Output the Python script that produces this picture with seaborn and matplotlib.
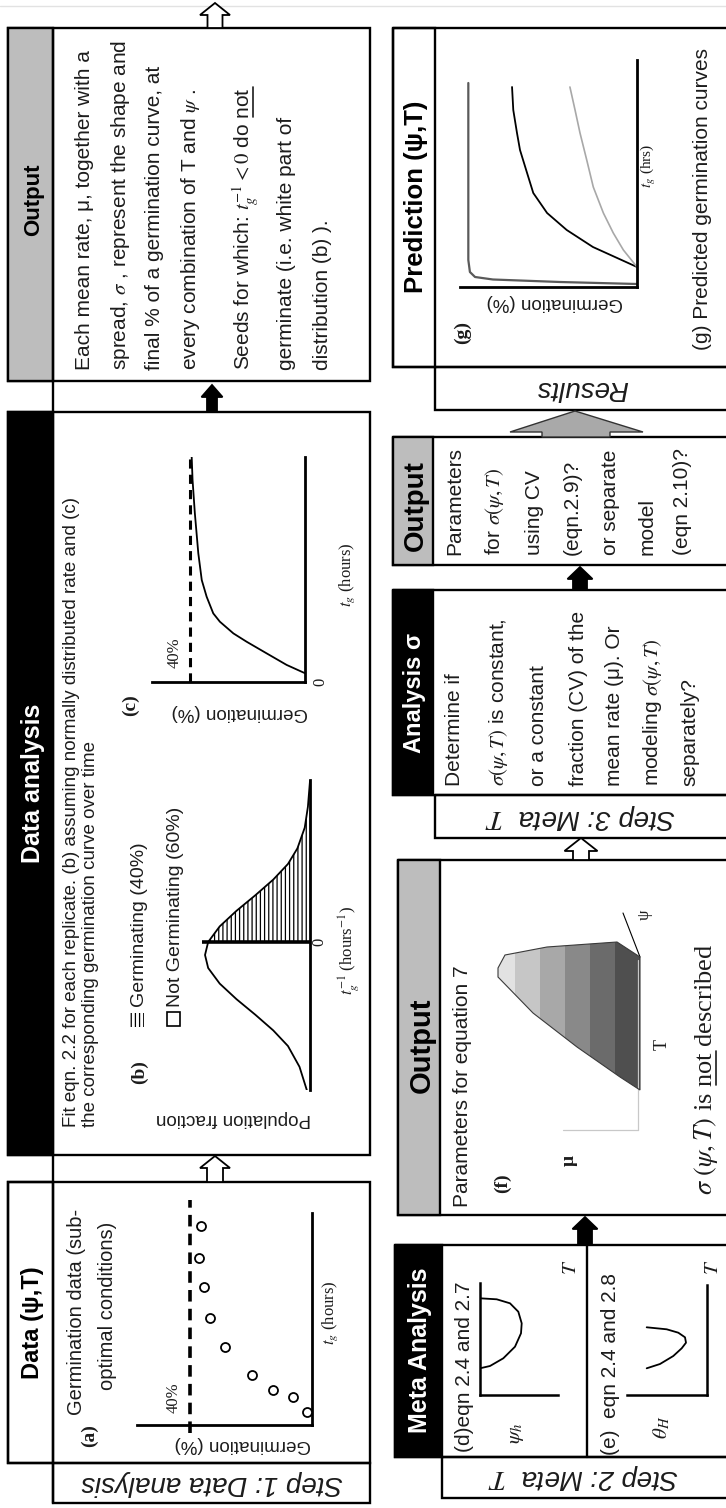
import matplotlib
matplotlib.use("Agg")
import matplotlib.pyplot as plt
from matplotlib.patches import Rectangle, Polygon
import seaborn as sns

# ---------------- values ----------------
# (a) observed germination data
a_time = [1.3, 2.8, 3.5, 5.0, 7.8, 10.7, 13.8, 16.7, 19.9]
a_germ = [1.6, 6.2, 12.8, 19.7, 28.5, 33.4, 35.4, 37.0, 36.4]
final_germ = 40
# (b) distribution of germination rate
b_rate = [3.1, 2.6, 2.2, 1.8, 1.5, 1.2, 0.9, 0.6, 0.3, 0.0, -0.25, -0.5, -0.8,
          -1.1, -1.4, -1.7, -2.0, -2.4, -2.85]
b_dens = [0.0, 0.02, 0.05, 0.12, 0.21, 0.35, 0.52, 0.70, 0.86, 0.97, 1.0, 0.97,
          0.86, 0.70, 0.52, 0.35, 0.21, 0.10, 0.03]
# (c) fitted germination curve
c_time = [0.39, 0.76, 1.27, 1.79, 2.16, 2.68, 3.05, 3.79, 4.53, 5.72, 7.5, 8.98, 10.0]
c_germ = [0.0, 6.4, 13.3, 20.3, 24.9, 29.6, 31.9, 34.2, 35.9, 37.1, 38.3, 39.1, 39.4]
# (d) psi_h vs T
d_T = [2.67, 2.9, 3.67, 4.83, 6.17, 7.17, 8.33, 9.17, 9.57, 9.67]
d_psi = [0.0, 1.0, 2.33, 3.5, 4.1, 4.17, 3.83, 3.0, 1.67, 0.0]
# (e) theta_H vs T
e_T = [2.67, 3.1, 3.9, 4.67, 5.23, 5.77, 6.23, 6.57, 6.77]
e_theta = [6.03, 4.7, 3.37, 2.53, 2.1, 2.2, 2.87, 4.03, 6.03]
# (f) projected mean-rate surface (outline) and shading bands
f_outline_x = [498, 505, 547, 617, 640, 640, 620, 577, 533, 498]
f_outline_y = [968, 955, 947, 942, 957, 1090, 1077, 1047, 1013, 977]
f_band_edges = [490, 515, 540, 565, 590, 615, 645]
f_band_colors = ["#e2e2e2", "#c6c6c6", "#a8a8a8", "#898989", "#6b6b6b", "#4f4f4f"]
# (g) predicted germination curves
g_time_1 = [0.3, 0.5, 0.75, 1.0, 1.5, 2.7, 20.4]
g_germ_1 = [0.0, 43.5, 81.4, 91.5, 94.4, 95.3, 95.3]
g_time_2 = [2.0, 4.0, 5.7, 7.4, 9.4, 11.4, 13.7, 15.4, 17.7, 20.0]
g_germ_2 = [0.0, 24.9, 39.7, 50.8, 58.6, 62.1, 66.1, 67.8, 69.9, 70.6]
g_time_3 = [2.0, 3.7, 5.4, 7.4, 10.0, 12.7, 15.4, 17.7, 20.0]
g_germ_3 = [0.0, 7.7, 13.4, 19.0, 24.7, 28.4, 32.2, 35.0, 37.9]

# text blocks
out1_lines = ["Each mean rate, \u03bc, together with a",
              "spread, $\\sigma$ , represent the shape and",
              "final % of a germination curve, at",
              "every combination of T and $\\psi$ .",
              "Seeds for which: $t_g^{-1} < 0$ do not",
              "germinate (i.e. white part of",
              "distribution (b) )."]
da_lines = ["Fit eqn. 2.2 for each replicate. (b) assuming normally distributed rate and (c)",
            "the corresponding germination curve over time"]
outs_lines = ["Parameters", "for $\\sigma(\\psi,T)$", "using CV", "(eqn.2.9)?",
              "or separate", "model", "(eqn 2.10)?"]
anas_lines = ["Determine if", "$\\sigma(\\psi,T)$ is constant,", "or a constant",
              "fraction (CV) of the", "mean rate (\u03bc). Or", "modeling $\\sigma(\\psi,T)$",
              "separately?"]

# ---------------- setup ----------------
sns.set_theme(style="white")
plt.rcParams["font.family"] = ["Liberation Sans", "DejaVu Sans"]
plt.rcParams["mathtext.fontset"] = "stix"
plt.rcParams["hatch.linewidth"] = 0.9

W, H = 726, 1508
fig = plt.figure(figsize=(W / 100, H / 100), dpi=100)
fig.patch.set_facecolor("white")
ax = fig.add_axes([0, 0, 1, 1])
ax.set_xlim(0, W)
ax.set_ylim(H, 0)
ax.axis("off")
R = fig.canvas.get_renderer()
INK = "#1c1c1c"
GREY_HDR = "#bdbdbd"
SERIF = ["Liberation Serif", "DejaVu Serif"]


def rect(x0, y0, x1, y1, fc="none", lw=1.7, z=3, **kw):
    ax.add_patch(Rectangle((x0, y0), x1 - x0, y1 - y0, facecolor=fc,
                           edgecolor="black", lw=lw, zorder=z, **kw))


def arrow(cx, tip, bottom, hw, hl, sw, fc):
    pts = [(cx, tip), (cx + hw / 2, tip + hl), (cx + sw / 2, tip + hl), (cx + sw / 2, bottom),
           (cx - sw / 2, bottom), (cx - sw / 2, tip + hl), (cx - hw / 2, tip + hl)]
    ax.add_patch(Polygon(pts, closed=True, facecolor=fc, edgecolor="black", lw=1.3, zorder=5))


def up(x, y, s, size, ha="left", color=INK, **kw):
    px = size * 100 / 72
    return ax.text(x + 0.36 * px, y, s, rotation=90, rotation_mode="anchor", ha=ha,
                   va="baseline", fontsize=size, color=color, zorder=6, **kw)


def flip(x, y, s, size, color=INK, **kw):
    return ax.text(x, y, s, rotation=180, rotation_mode="anchor", ha="center",
                   va="center", fontsize=size, color=color, zorder=6, **kw)


def width(s, size, **kw):
    t = ax.text(0, 0, s, fontsize=size, **kw)
    w = t.get_window_extent(R).width
    t.remove()
    return w


def underline(x, y, upto, word, size, **kw):
    px = size * 100 / 72
    w_end = width(upto, size, **kw)
    w_word = width(word, size, **kw)
    xb = x + 0.36 * px + 0.14 * px
    ax.plot([xb, xb], [y - (w_end - w_word), y - w_end], color=INK, lw=1.2, zorder=6)


def inset(x0, x1, y0, y1):
    a = fig.add_axes([x0 / W, 1 - y1 / H, (x1 - x0) / W, (y1 - y0) / H])
    a.patch.set_alpha(0)
    return a


def frame(a, sides, lw=2.0):
    for s in ["left", "right", "top", "bottom"]:
        a.spines[s].set_visible(s in sides)
        a.spines[s].set_linewidth(lw)
        a.spines[s].set_color("black")
    a.set_xticks([])
    a.set_yticks([])
    a.set_xlabel("")
    a.set_ylabel("")


# faint top rule
ax.plot([0, W], [6, 6], color="#e2e2e2", lw=1)

# ---------------- left column: Step 1 ----------------
rect(8, 28, 370, 381)
rect(8, 28, 53, 381, fc=GREY_HDR)
rect(8, 412, 370, 1155)
rect(8, 412, 53, 1155, fc="black")
rect(8, 1182, 370, 1463)
rect(8, 1182, 53, 1463)
rect(53, 1463, 370, 1503)
ax.plot([53, 53], [28, 1503], color="black", lw=1.7, zorder=3)

arrow(215, 3, 28, 30, 12, 15, "white")
arrow(212, 385, 412, 21, 12, 10, "black")
arrow(215, 1156, 1182, 30, 12, 16, "white")

up(31, 200, "Output", 16, ha="center", weight="bold", color="black")
up(31, 783, "Data analysis", 18, ha="center", weight="bold", color="white")
up(31, 1323, "Data (\u03c8,T)", 17, ha="center", weight="bold", color="black")
flip(212, 1483, "Step 1: Data analysis", 20, style="italic")

for xc, s in zip([83, 118, 153, 188, 243, 285, 320], out1_lines):
    up(xc, 370, s, 15)
underline(243, 370, out1_lines[4], "not", 15)

up(69, 1127, da_lines[0], 13.5)
up(88, 1127, da_lines[1], 13.5)

# (a)
ax_a = inset(137, 312, 1213, 1425)
sns.scatterplot(x=a_germ, y=a_time, ax=ax_a, s=42, color="white", edgecolor="black",
                linewidth=1.3, zorder=3)
ax_a.axvline(final_germ, ymin=-0.04, ymax=1.06, clip_on=False, color="black", lw=2.6,
             linestyle=(0, (3.2, 2.0)))
ax_a.set_xlim(57.4, 0)
ax_a.set_ylim(0, 21.2)
frame(ax_a, ["right", "bottom"])
up(87, 1436, "(a)", 14, ha="center", weight="bold", family=SERIF)
up(75, 1312, "Germination data (sub-", 14.5, ha="center")
up(106, 1306, "optimal conditions)", 14.5, ha="center")
up(172, 1398, "40%", 12, ha="center", family=SERIF)
flip(243, 1445, "Germination (%)", 13.5)
up(328, 1313, "$t_g$ (hours)", 12, ha="center", family=SERIF)

# (b)
ax_b = inset(190, 310, 780, 1090)
sns.lineplot(x=b_dens, y=b_rate, sort=False, estimator=None, color="black", lw=1.3, ax=ax_b)
pos = [i for i, r in enumerate(b_rate) if r >= 0]
ax_b.fill_betweenx([b_rate[i] for i in pos], 0, [b_dens[i] for i in pos],
                   facecolor="none", edgecolor="black", hatch="||||", lw=0)
ax_b.plot([0, 1.03], [0, 0], color="black", lw=2.6, solid_capstyle="butt")
ax_b.set_xlim(1.143, 0)
ax_b.set_ylim(-2.846, 3.115)
frame(ax_b, ["right"])
ax.add_patch(Rectangle((129, 1013), 15, 14, facecolor="white", edgecolor="black",
                       hatch="||||", lw=0, zorder=5))
up(137, 1007, "Germinating (40%)", 14)
rect(167, 1012, 180, 1026, fc="white", lw=1.2, z=5)
up(173, 1007, "Not Germinating (60%)", 14)
up(137, 1072, "(b)", 14, ha="center", weight="bold", family=SERIF)
flip(233, 1118, "Population fraction", 13.5)
up(317, 942, "0", 12, ha="center", family=SERIF)
up(347, 950, "$t_g^{-1}$ (hours$^{-1}$)", 12, ha="center", family=SERIF)

# (c)
ax_c = inset(152, 305, 457, 682)
sns.lineplot(x=c_germ, y=c_time, sort=False, estimator=None, color="black", lw=1.3, ax=ax_c)
ax_c.axvline(final_germ, color="black", lw=2.2, linestyle=(0, (3.0, 2.0)))
ax_c.set_xlim(53.2, 0)
ax_c.set_ylim(0, 10)
frame(ax_c, ["right", "bottom"])
up(128, 705, "(c)", 14, ha="center", weight="bold", family=SERIF)
up(173, 653, "40%", 12, ha="center", family=SERIF)
flip(240, 713, "Germination (%)", 13.5)
up(318, 682, "0", 12, ha="center", family=SERIF)
up(345, 575, "$t_g$ (hours)", 12, ha="center", family=SERIF)

# ---------------- right column: Steps 2-3 and results ----------------
X1 = 732
rect(393, 28, X1, 367)
rect(393, 28, 435, 367)
rect(435, 367, X1, 410)
rect(393, 437, X1, 565)
rect(393, 437, 433, 565, fc=GREY_HDR)
rect(393, 590, X1, 795)
rect(393, 590, 433, 795, fc="black")
rect(435, 795, X1, 838)
rect(398, 860, X1, 1215)
rect(398, 860, 440, 1215, fc=GREY_HDR)
rect(395, 1245, X1, 1457)
rect(395, 1245, 442, 1457, fc="black")
rect(442, 1457, X1, 1498)
ax.plot([587, 587], [1245, 1457], color="black", lw=1.7, zorder=3)

ax.add_patch(Polygon([(510, 432), (575, 411), (643, 432), (610, 432), (610, 437),
                      (542, 437), (542, 432)], closed=True, facecolor="#a9a9a9",
                     edgecolor="#333333", lw=1.0, zorder=5))
arrow(580, 567, 590, 25, 12, 14, "black")
arrow(581, 838, 860, 33, 13, 16, "white")
arrow(585, 1217, 1245, 25, 12, 14, "black")

up(414, 197, "Prediction (\u03c8,T)", 18.5, ha="center", weight="bold", color="black")
up(413, 506, "Output", 20, ha="center", weight="bold", color="black")
up(413, 693, "Analysis \u03c3", 17, ha="center", weight="bold", color="white")
up(419, 1045, "Output", 21, ha="center", weight="bold", color="black")
up(418, 1350, "Meta Analysis", 18, ha="center", weight="bold", color="white")

flip(582, 388, "Results", 20, style="italic")
flip(580, 816, "Step 3: Meta  $T$", 20, style="italic")
flip(583, 1477, "Step 2: Meta  $T$", 20, style="italic")

for xc, s in zip([453, 492, 533, 570, 608, 645, 680], outs_lines):
    up(xc, 555, s, 15)
for xc, s in zip([453, 497, 537, 577, 613, 650, 688], anas_lines):
    up(xc, 786, s, 15)

# (g)
ax_g = inset(460, 637, 60, 287)
sns.lineplot(x=g_germ_1, y=g_time_1, sort=False, estimator=None, color="#5a5a5a", lw=1.6, ax=ax_g)
sns.lineplot(x=g_germ_2, y=g_time_2, sort=False, estimator=None, color="black", lw=1.3, ax=ax_g)
sns.lineplot(x=g_germ_3, y=g_time_3, sort=False, estimator=None, color="#a8a8a8", lw=1.2, ax=ax_g)
ax_g.set_xlim(100, 0)
ax_g.set_ylim(0, 22.7)
frame(ax_g, ["right", "bottom"])
up(460, 333, "(g)", 14, ha="center", weight="bold", family=SERIF)
flip(555, 303, "Germination (%)", 13.5)
up(646, 166, "$t_g$ (hrs)", 11, ha="center", family=SERIF)
up(700, 350, "(g) Predicted germination curves", 15)

# (f)
ax_f = inset(485, 665, 895, 1140)
ax_f.set_xlim(485, 665)
ax_f.set_ylim(1140, 895)
ax_f.axis("off")
ax_f.plot([638, 638], [960, 1130], color="#c8c8c8", lw=0.9)
ax_f.plot([563, 638], [1130, 1130], color="#c8c8c8", lw=0.9)
shape = Polygon(list(zip(f_outline_x, f_outline_y)), closed=True, facecolor="none",
                edgecolor="#3a3a3a", lw=0.8, transform=ax_f.transData, zorder=3)
ax_f.add_patch(shape)
for e0, e1, col in zip(f_band_edges[:-1], f_band_edges[1:], f_band_colors):
    band = ax_f.axvspan(e0, e1, color=col, lw=0)
    band.set_clip_path(shape)
ax_f.plot([623, 640], [913, 957], color="black", lw=0.8)
up(460, 1207, "Parameters for equation 7", 15)
up(500, 1183, "(f)", 14, ha="center", weight="bold", family=SERIF)
up(567, 1160, "\u03bc", 14, ha="center", weight="bold", family=SERIF)
up(660, 1045, "T", 13, ha="center", family=SERIF)
up(643, 915, "\u03c8", 12, ha="center", family=SERIF)
cap = "$\\sigma\\ (\\psi,T)$ is not described"
up(703, 1195, cap, 19, family=SERIF)
underline(703, 1195, "$\\sigma\\ (\\psi,T)$ is not", "not", 19, family=SERIF)

# (d) and (e)
ax_d = inset(480, 558, 1283, 1395)
sns.lineplot(x=d_psi, y=d_T, sort=False, estimator=None, color="black", lw=1.3, ax=ax_d)
ax_d.set_xlim(0, 7.8)
ax_d.set_ylim(0, 11.2)
frame(ax_d, ["left", "bottom"], lw=1.8)
ax_e = inset(627, 707, 1285, 1395)
sns.lineplot(x=e_theta, y=e_T, sort=False, estimator=None, color="black", lw=1.3, ax=ax_e)
ax_e.set_xlim(8.0, 0)
ax_e.set_ylim(0, 11.0)
frame(ax_e, ["right", "bottom"], lw=1.8)
up(463, 1452, "(d)eqn 2.4 and 2.7", 15)
up(513, 1433, "$\\psi_h$", 15, ha="center")
up(568, 1267, "$T$", 15, ha="center")
up(608, 1455, "(e)  eqn 2.4 and 2.8", 15)
up(660, 1427, "$\\theta_H$", 15, ha="center")
up(710, 1267, "$T$", 15, ha="center")

fig.savefig("out.png", dpi=100, facecolor="white")
